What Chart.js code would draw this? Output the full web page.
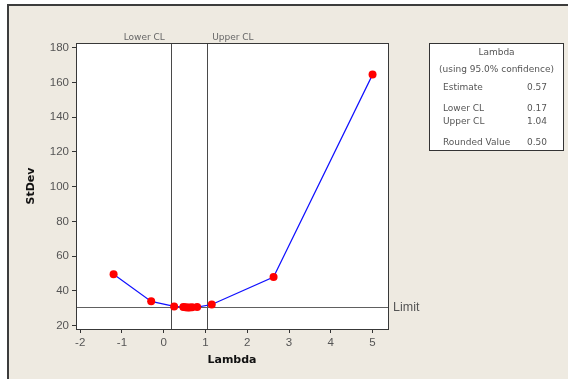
<!DOCTYPE html>
<html>
<head>
<meta charset="utf-8">
<script src="https://cdn.jsdelivr.net/npm/chart.js@4.4.1/dist/chart.umd.min.js"></script>
<style>
  html, body { margin: 0; padding: 0; background: #ffffff; }
  #wrap { position: relative; width: 568px; height: 379px; overflow: hidden; }
  #panel {
    position: absolute; left: 7px; top: 4px; width: 620px; height: 420px;
    background: #eeeae1; border-left: 2px solid #3c3c3c; border-top: 2px solid #3c3c3c;
  }
  #c { position: absolute; left: 0; top: 0; }
</style>
</head>
<body>
<div id="wrap">
  <div id="panel"></div>
  <canvas id="c" width="568" height="379"></canvas>
</div>
<script>
// Box-Cox evaluation: lambda vs. standard deviation
const lambdas = [-1.2, -0.3, 0.25, 0.47, 0.52, 0.57, 0.62, 0.68, 0.80, 1.15, 2.63, 5.0];
const stdevs  = [49.6, 34.0, 31.1, 30.7, 30.6, 30.5, 30.5, 30.6, 30.7, 32.2, 48.0, 164.5];

// Confidence limits and reference values
const lowerCL = 0.17;
const upperCL = 1.04;
const estimate = 0.57;
const roundedValue = 0.50;
const limitValue = 30.8;

// Summary box rows: [label, value]
const summaryRows = [
  ['Estimate', estimate.toFixed(2)],
  ['Lower CL', lowerCL.toFixed(2)],
  ['Upper CL', upperCL.toFixed(2)],
  ['Rounded Value', roundedValue.toFixed(2)]
];

const FONT = '"DejaVu Sans", Verdana, sans-serif';
const TICK_FONT = '"Liberation Sans", Arial, sans-serif';
const points = lambdas.map((x, i) => ({ x: x, y: stdevs[i] }));

const refLines = {
  id: 'refLines',
  beforeDraw(chart) {
    const { ctx, chartArea: a } = chart;
    ctx.save();
    ctx.fillStyle = '#ffffff';
    ctx.fillRect(a.left, a.top, a.right - a.left, a.bottom - a.top);
    ctx.restore();
  },
  beforeDatasetsDraw(chart) {
    const { ctx, chartArea: a, scales: { x, y } } = chart;
    ctx.save();
    ctx.lineWidth = 1;
    // vertical CL lines
    ctx.strokeStyle = '#4a4a4a';
    [lowerCL, upperCL].forEach(v => {
      const px = Math.round(x.getPixelForValue(v)) + 0.5;
      ctx.beginPath(); ctx.moveTo(px, a.top); ctx.lineTo(px, a.bottom); ctx.stroke();
    });
    // horizontal limit line
    ctx.strokeStyle = '#606060';
    const py = Math.round(y.getPixelForValue(limitValue)) + 0.5;
    ctx.beginPath(); ctx.moveTo(a.left, py); ctx.lineTo(a.right, py); ctx.stroke();

    // labels
    ctx.fillStyle = '#666666';
    ctx.font = '9px ' + FONT;
    ctx.textBaseline = 'middle';
    ctx.textAlign = 'right';
    ctx.fillText('Lower CL', x.getPixelForValue(lowerCL) - 6, a.top - 5);
    ctx.textAlign = 'left';
    ctx.fillText('Upper CL', x.getPixelForValue(upperCL) + 5, a.top - 5);
    ctx.font = '12.5px ' + TICK_FONT;
    ctx.fillStyle = '#555555';
    ctx.fillText('Limit', a.right + 5, py);
    ctx.restore();
  },
  afterDraw(chart) {
    const { ctx, chartArea: a } = chart;
    ctx.save();
    // plot frame
    ctx.strokeStyle = '#383838';
    ctx.lineWidth = 1;
    ctx.strokeRect(Math.round(a.left) + 0.5, Math.round(a.top) + 0.5,
                   Math.round(a.right - a.left), Math.round(a.bottom - a.top));

    // summary box
    const bx = 429.5, by = 43.5, bw = 134, bh = 107;
    ctx.fillStyle = '#ffffff';
    ctx.fillRect(bx, by, bw, bh);
    ctx.strokeStyle = '#333333';
    ctx.strokeRect(bx, by, bw, bh);
    ctx.fillStyle = '#555555';
    ctx.font = '9px ' + FONT;
    ctx.textBaseline = 'middle';
    ctx.textAlign = 'center';
    ctx.fillText('Lambda', bx + bw / 2, 53);
    ctx.fillText('(using 95.0% confidence)', bx + bw / 2, 70);
    const rowY = [88, 109, 122, 143];
    summaryRows.forEach((r, i) => {
      ctx.textAlign = 'left';
      ctx.fillText(r[0], 443, rowY[i]);
      ctx.textAlign = 'right';
      ctx.fillText(r[1], 547, rowY[i]);
    });
    ctx.restore();
  }
};

new Chart(document.getElementById('c'), {
  type: 'scatter',
  data: {
    datasets: [{
      data: points,
      showLine: true,
      borderColor: '#1010ff',
      borderWidth: 1.2,
      pointRadius: 4,
      pointBackgroundColor: '#ff0000',
      pointBorderColor: '#ff0000',
      pointBorderWidth: 0
    }]
  },
  options: {
    responsive: false,
    animation: false,
    devicePixelRatio: 1,
    layout: { padding: { top: 43, right: 180, left: 0, bottom: 0 } },
    plugins: { legend: { display: false }, tooltip: { enabled: false } },
    scales: {
      x: {
        type: 'linear',
        min: -2.1, max: 5.37,
        afterFit(s) { s.height = 50; },
        ticks: { stepSize: 1, includeBounds: false, color: '#555555', padding: 3,
                 font: { family: TICK_FONT, size: 11.5 } },
        grid: { drawOnChartArea: false, drawTicks: true, tickLength: 4, color: '#333333' },
        border: { display: true, color: '#383838' },
        title: { display: true, text: 'Lambda', color: '#111111',
                 font: { family: FONT, size: 11, weight: 'bold' }, padding: { top: 0, bottom: 12 } }
      },
      y: {
        type: 'linear',
        min: 18.1, max: 182.7,
        afterFit(s) { s.width = 76; },
        ticks: { stepSize: 20, includeBounds: false, color: '#555555', padding: 3,
                 font: { family: TICK_FONT, size: 11.5 } },
        grid: { drawOnChartArea: false, drawTicks: true, tickLength: 4, color: '#333333' },
        border: { display: true, color: '#383838' },
        title: { display: true, text: 'StDev', color: '#111111',
                 font: { family: FONT, size: 11, weight: 'bold' }, padding: { top: 25, bottom: 0 } }
      }
    }
  },
  plugins: [refLines]
});
</script>
</body>
</html>
